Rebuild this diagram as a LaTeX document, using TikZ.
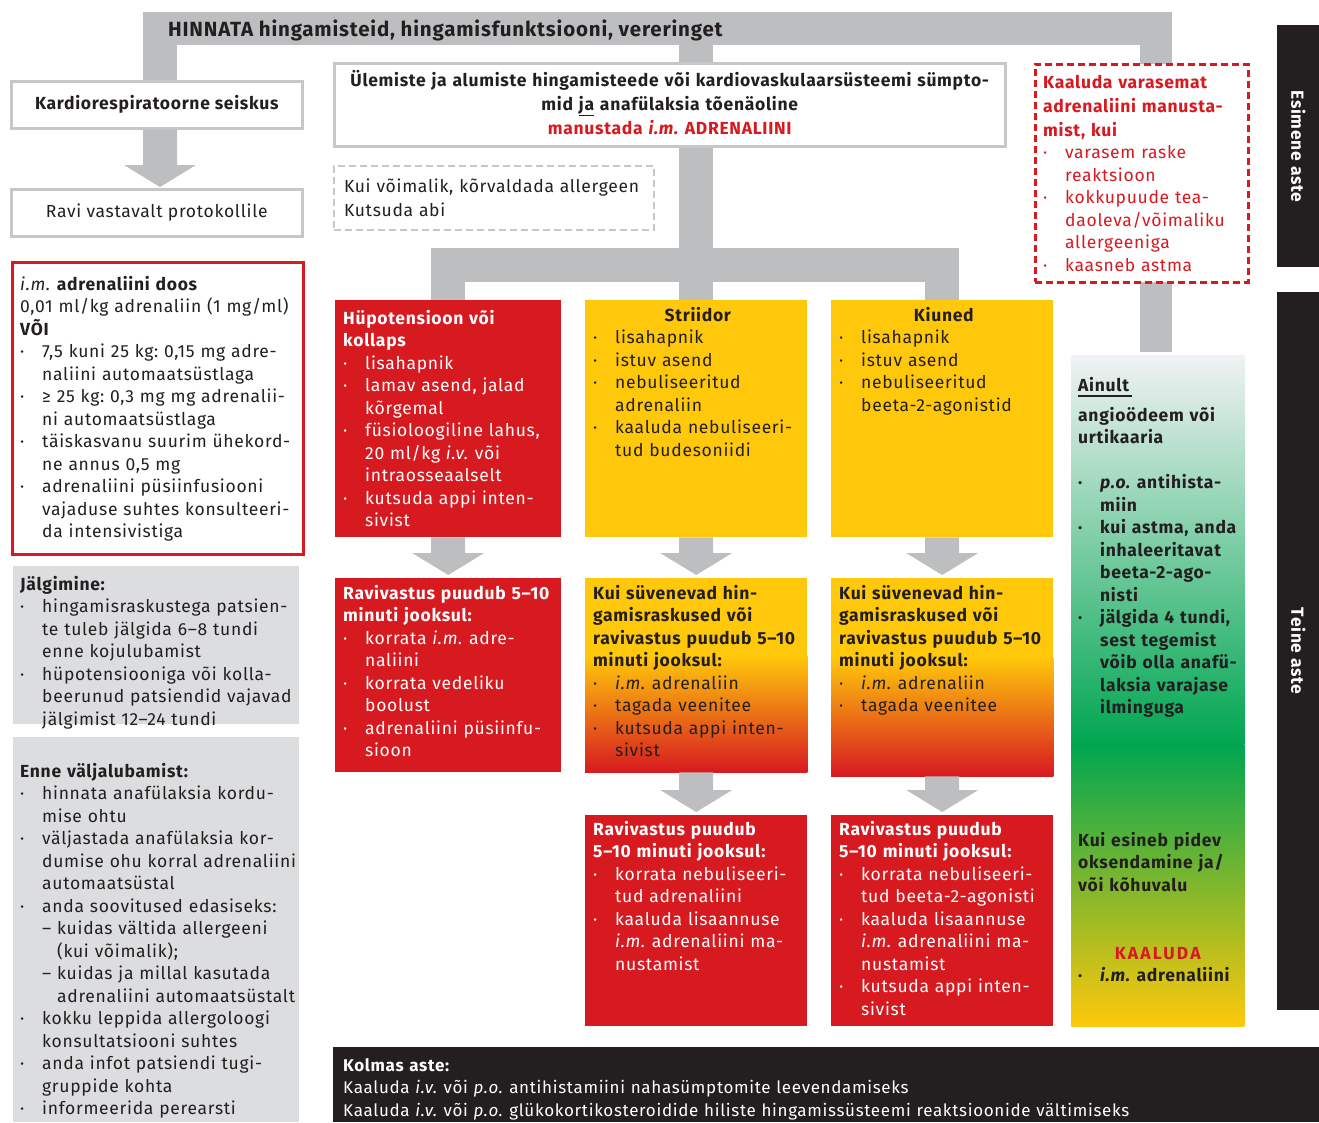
\documentclass[tikz,border=0pt]{standalone}
\usepackage{fontspec}
\setmainfont{Fira Sans}[LetterSpace=4]
\usetikzlibrary{backgrounds,calc}

\definecolor{barcol}{HTML}{BCBEC0}
\definecolor{boxline}{HTML}{C6C7C9}
\definecolor{ared}{HTML}{D71920}
\definecolor{ayellow}{HTML}{FFC80B}
\definecolor{aorange}{HTML}{EE7A22}
\definecolor{agreen}{HTML}{00A651}
\definecolor{alight}{HTML}{F1F2F4}
\definecolor{agray}{HTML}{DCDDDF}
\definecolor{ablack}{HTML}{231F20}

\newcommand\fs{\fontsize{17.5}{22.5}\selectfont}
\newcommand\bul{\par\hangindent=22pt\hangafter=1\noindent\makebox[22pt][l]{\textperiodcentered}}
% grey block arrow, from top point to tip
\newcommand\blockarrow[2]{%
  \fill[barcol] let \p1=#1, \p2=#2 in
    (\x1-17pt,\y1) -- (\x1+17pt,\y1) -- (\x1+17pt,\y2+22pt) -- (\x1+36pt,\y2+22pt)
    -- (\x1,\y2) -- (\x1-36pt,\y2+22pt) -- (\x1-17pt,\y2+22pt) -- cycle;}

\begin{document}
\frenchspacing
\begin{tikzpicture}[x=1pt, y=-1pt, font=\fs]

\tikzstyle{bar}=[fill=barcol, inner sep=0pt, anchor=north west]
\tikzstyle{stem}=[draw=barcol, line width=34pt]
\tikzstyle{plain}=[draw=boxline, line width=2.5pt, fill=white, inner sep=0pt, anchor=north west, text=ablack]
\tikzstyle{dashbox}=[draw=boxline, line width=2pt, dash pattern=on 7pt off 4pt, fill=white, inner sep=0pt, anchor=north west, text=ablack]
\tikzstyle{earlybox}=[draw=ared, line width=2.5pt, dash pattern=on 7pt off 4pt, fill=white, inner sep=0pt, anchor=north west]
\tikzstyle{redbox}=[fill=ared, inner sep=0pt, anchor=north west]
\tikzstyle{yelbox}=[fill=ayellow, inner sep=0pt, anchor=north west]
\tikzstyle{graybox}=[fill=agray, inner sep=0pt, anchor=north west]
\tikzstyle{shadebox}=[inner sep=0pt, anchor=north west]
\tikzstyle{tab}=[fill=ablack, inner sep=0pt, anchor=north west]
\tikzstyle{txt}=[anchor=base west, inner sep=0pt, align=left, text=ablack]

\useasboundingbox (0,0) rectangle (1319,1122);

% top bar
\node (assess) [bar, minimum width=1029pt, minimum height=33pt] at (143,12) {};
\node (assess-t) [txt, font=\fontsize{20.5}{22}\selectfont\bfseries] at ([xshift=25pt,yshift=-24pt]assess.north west) {HINNATA hingamisteid, hingamisfunktsiooni, vereringet};

% left column
\node (cardio) [plain, minimum width=291pt, minimum height=47pt, font=\fs\bfseries] at (10,80) {Kardiorespiratoorne seiskus};
\node (protocol) [plain, minimum width=291pt, minimum height=47pt] at (10,188) {Ravi vastavalt protokollile};

\node (dose) [plain, draw=ared, minimum width=291pt, minimum height=292pt] at (11,261) {};
\node (dose-t) [txt, text width=280pt] at ([xshift=9pt,yshift=-29pt]dose.north west) {\textit{i.m.} \textbf{adrenaliini doos}\newline 0,01 ml/kg adrenaliin (1 mg/ml)\newline \textbf{VÕI}\bul 7,5 kuni 25 kg: 0,15 mg adre-\newline naliini automaatsüstlaga\bul ≥ 25 kg: 0,3 mg mg adrenalii-\newline ni automaatsüstlaga\bul täiskasvanu suurim ühekord-\newline ne annus 0,5 mg\bul adrenaliini püsiinfusiooni\newline vajaduse suhtes konsulteeri-\newline da intensivistiga\par};

\node (monitor) [graybox, minimum width=286pt, minimum height=158pt] at (13,566) {};
\node (monitor-t) [txt, text width=280pt] at ([xshift=7pt,yshift=-24pt]monitor.north west) {\textbf{Jälgimine:}\bul hingamisraskustega patsien-\newline te tuleb jälgida 6–8 tundi\newline enne kojulubamist\bul hüpotensiooniga või kolla-\newline beerunud patsiendid vajavad\newline jälgimist 12–24 tundi\par};

\node (discharge) [graybox, minimum width=286pt, minimum height=385pt] at (13,737) {};
\node (discharge-t) [txt, text width=280pt] at ([xshift=7pt,yshift=-40pt]discharge.north west) {\textbf{Enne väljalubamist:}\bul hinnata anafülaksia kordu-\newline mise ohtu\bul väljastada anafülaksia kor-\newline dumise ohu korral adrenaliini\newline automaatsüstal\bul anda soovitused edasiseks:\newline \makebox[15pt][l]{–}kuidas vältida allergeeni\newline \hspace*{15pt}(kui võimalik);\newline \makebox[15pt][l]{–}kuidas ja millal kasutada\newline \hspace*{15pt}adrenaliini automaatsüstalt\bul kokku leppida allergoloogi\newline konsultatsiooni suhtes\bul anda infot patsiendi tugi-\newline gruppide kohta\bul informeerida perearsti\par};

% middle, first level
\node (symptoms) [plain, minimum width=671pt, minimum height=83pt] at (333,62) {};
\node (symptoms-t) [anchor=base, inner sep=0pt, text width=665pt, align=center, text=ablack, font=\fontsize{17.5}{24}\selectfont\bfseries] at ([yshift=-24pt]symptoms.north) {Ülemiste ja alumiste hingamisteede või kardiovaskulaarsüsteemi sümpto-\\mid \underline{ja} anafülaksia tõenäoline\\\textcolor{ared}{manustada \textit{i.m.} ADRENALIINI}};

\node (allergen) [dashbox, minimum width=320pt, minimum height=64pt, text width=300pt, align=left, font=\fontsize{17.5}{24}\selectfont] at (333,165) {Kui võimalik, kõrvaldada allergeen\\Kutsuda abi};

\node (early) [earlybox, minimum width=213pt, minimum height=218pt] at (1034,63) {};
\node (early-t) [txt, text=ared, text width=205pt] at ([xshift=9pt,yshift=-25pt]early.north west) {{\bfseries\baselineskip=24pt Kaaluda varasemat\newline adrenaliini manusta-\newline mist, kui\par}\bul varasem raske\newline reaktsioon\bul kokkupuude tea-\newline daoleva/võimaliku\newline allergeeniga\bul kaasneb astma\par};

% tabs
\node (first) [tab, minimum width=42pt, minimum height=242pt] at (1277,25) {};
\node (first-t) [rotate=-90, text=white, font=\fs\bfseries] at (first.center) {Esimene aste};
\node (second) [tab, minimum width=42pt, minimum height=718pt] at (1277,292) {};
\node (second-t) [rotate=-90, text=white, font=\fs\bfseries] at (second.center) {Teine aste};

% three columns
\node (hypo) [redbox, minimum width=226pt, minimum height=237pt] at (335,300) {};
\node (hypo-t) [txt, text=white, text width=218pt] at ([xshift=8pt,yshift=-24pt]hypo.north west) {\textbf{Hüpotensioon või\newline kollaps}\bul lisahapnik\bul lamav asend, jalad\newline kõrgemal\bul füsioloogiline lahus,\newline 20 ml/kg \textit{i.v.} või\newline intraosseaalselt\bul kutsuda appi inten-\newline sivist\par};

\node (stridor) [yelbox, minimum width=222pt, minimum height=237pt] at (585,300) {};
\node (stridor-t) [txt, text width=210pt] at ([xshift=8pt,yshift=-21pt]stridor.north west) {{\centering\textbf{Striidor}\par}\bul lisahapnik\bul istuv asend\bul nebuliseeritud\newline adrenaliin\bul kaaluda nebuliseeri-\newline tud budesoniidi\par};

\node (wheeze) [yelbox, minimum width=222pt, minimum height=237pt] at (831,300) {};
\node (wheeze-t) [txt, text width=210pt] at ([xshift=8pt,yshift=-21pt]wheeze.north west) {{\centering\textbf{Kiuned}\par}\bul lisahapnik\bul istuv asend\bul nebuliseeritud\newline beeta-2-agonistid\par};

\node (hypo2) [redbox, minimum width=226pt, minimum height=194pt] at (335,578) {};
\node (hypo2-t) [txt, text=white, text width=218pt] at ([xshift=8pt,yshift=-21pt]hypo2.north west) {\textbf{Ravivastus puudub 5–10\newline minuti jooksul:}\bul korrata \textit{i.m.} adre-\newline naliini\bul korrata vedeliku\newline boolust\bul adrenaliini püsiinfu-\newline sioon\par};

\node (stridor2) [shadebox, minimum width=222pt, minimum height=194pt] at (585,578) {};
\node (stridor2-t) [txt, text width=214pt] at ([xshift=8pt,yshift=-21pt]stridor2.north west) {\textbf{Kui süvenevad hin-\newline gamisraskused või\newline ravivastus puudub 5–10\newline minuti jooksul:}\bul \textit{i.m.} adrenaliin\bul tagada veenitee\bul kutsuda appi inten-\newline sivist\par};

\node (wheeze2) [shadebox, minimum width=222pt, minimum height=198pt] at (831,578) {};
\node (wheeze2-t) [txt, text width=214pt] at ([xshift=8pt,yshift=-21pt]wheeze2.north west) {\textbf{Kui süvenevad hin-\newline gamisraskused või\newline ravivastus puudub 5–10\newline minuti jooksul:}\bul \textit{i.m.} adrenaliin\bul tagada veenitee\par};

\node (stridor3) [redbox, minimum width=222pt, minimum height=211pt] at (585,815) {};
\node (stridor3-t) [txt, text=white, text width=214pt] at ([xshift=8pt,yshift=-20pt]stridor3.north west) {\textbf{Ravivastus puudub\newline 5–10 minuti jooksul:}\bul korrata nebuliseeri-\newline tud adrenaliini\bul kaaluda lisaannuse\newline \textit{i.m.} adrenaliini ma-\newline nustamist\par};

\node (wheeze3) [redbox, minimum width=222pt, minimum height=211pt] at (831,815) {};
\node (wheeze3-t) [txt, text=white, text width=214pt] at ([xshift=8pt,yshift=-20pt]wheeze3.north west) {\textbf{Ravivastus puudub\newline 5–10 minuti jooksul:}\bul korrata nebuliseeri-\newline tud beeta-2-agonisti\bul kaaluda lisaannuse\newline \textit{i.m.} adrenaliini ma-\newline nustamist\bul kutsuda appi inten-\newline sivist\par};

% skin column
\node (skin) [shadebox, minimum width=173pt, minimum height=671pt] at (1071,355) {};
\node (skin-t) [txt, text width=170pt, font=\fs\bfseries] at ([xshift=7pt,yshift=-36pt]skin.north west) {\makebox[0pt][l]{\rule[-6pt]{54pt}{2.5pt}}Ainult\par\vspace{7.5pt}angioödeem või\newline urtikaaria\par\vspace{22.5pt}\bul \textit{p.o.} antihista-\newline miin\bul kui astma, anda\newline inhaleeritavat\newline beeta-2-ago-\newline nisti\bul jälgida 4 tundi,\newline sest tegemist\newline võib olla anafü-\newline laksia varajase\newline ilminguga\par};
\node (skin-m) [txt, text width=170pt, font=\fs\bfseries] at ([xshift=7pt,yshift=-491pt]skin.north west) {Kui esineb pidev\newline oksendamine ja/\newline või kõhuvalu};
\node (skin-b) [txt, text width=159pt, font=\fs\bfseries] at ([xshift=7pt,yshift=-604pt]skin.north west) {{\centering\color{ared}\addfontfeature{LetterSpace=12}KAALUDA\par}\bul \textit{i.m.} adrenaliini\par};

% third level
\node (third) [tab, minimum width=986pt, minimum height=75pt] at (333,1047) {};
\node (third-t) [txt, text=white, text width=970pt, font=\fontsize{17}{22.5}\selectfont] at ([xshift=10pt,yshift=-24pt]third.north west) {\textbf{Kolmas aste:}\newline Kaaluda \textit{i.v.} või \textit{p.o.} antihistamiini nahasümptomite leevendamiseks\newline Kaaluda \textit{i.v.} või \textit{p.o.} glükokortikosteroidide hiliste hingamissüsteemi reaktsioonide vältimiseks};

% arrows
\coordinate (lstem) at ([xshift=17pt]assess.south west);
\coordinate (rstem) at ([xshift=-16pt]assess.south east);
\coordinate (branch) at (696,265);
\blockarrow{(lstem |- cardio.south)}{([yshift=1pt]lstem |- protocol.north)}
\blockarrow{(hypo.south)}{([yshift=3pt]hypo2.north)}
\blockarrow{(stridor.south)}{([yshift=3pt]stridor2.north)}
\blockarrow{(wheeze.south)}{([yshift=3pt]wheeze2.north)}
\blockarrow{(stridor2.south)}{([yshift=3pt]stridor3.north)}
\blockarrow{(wheeze2.south)}{([yshift=3pt]wheeze3.north)}

\begin{scope}[on background layer]
\draw[stem] (lstem |- assess.center) -- (lstem |- cardio.north);
\draw[stem] (assess.center -| stridor.north) -- (stridor.north);
\draw[stem, line cap=rect] (branch -| hypo.north) -- (branch -| wheeze.north);
\draw[stem] (branch -| hypo.north) -- (hypo.north);
\draw[stem] (branch -| wheeze.north) -- (wheeze.north);
\draw[stem, line width=32pt] (rstem |- assess.center) -- ([yshift=3pt]rstem |- skin.north);

\fill[ayellow] (stridor2.north west) rectangle ($(stridor2.south east)!0.6!(stridor2.north east)$);
\shade[top color=ayellow, middle color=aorange, bottom color=ared] ($(stridor2.north west)!0.4!(stridor2.south west)$) rectangle (stridor2.south east);
\fill[ayellow] (wheeze2.north west) rectangle ($(wheeze2.south east)!0.6!(wheeze2.north east)$);
\shade[top color=ayellow, middle color=aorange, bottom color=ared] ($(wheeze2.north west)!0.4!(wheeze2.south west)$) rectangle (wheeze2.south east);

\shade[top color=alight, bottom color=agreen] (skin.north west) rectangle ($(skin.south east)!0.42!(skin.north east)$);
\shade[top color=agreen, bottom color=ayellow] ($(skin.north west)!0.58!(skin.south west)$) rectangle (skin.south east);
\end{scope}

\end{tikzpicture}
\end{document}
